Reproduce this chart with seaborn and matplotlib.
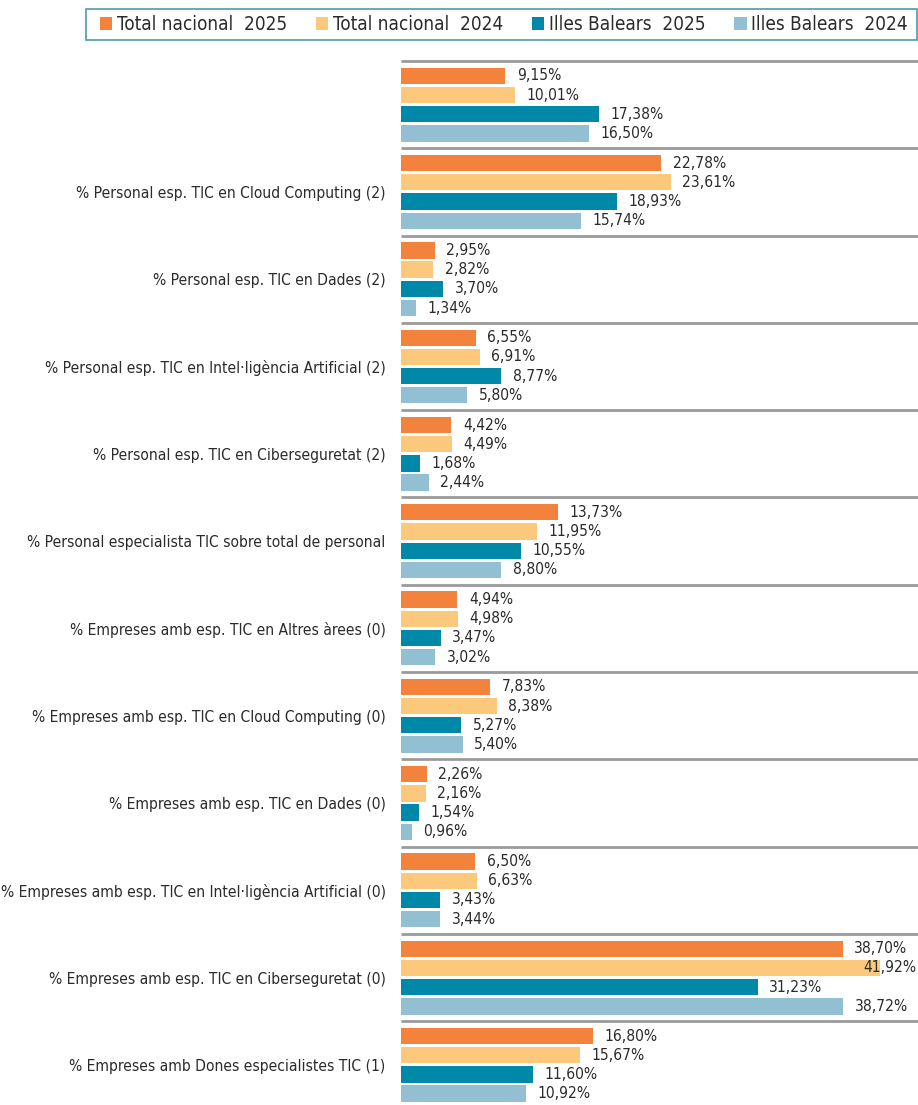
import numpy as np
import pandas as pd
import matplotlib.pyplot as plt
import seaborn as sns
from matplotlib.patches import Patch, Rectangle

# ==========================================
# Data
# ==========================================

categories = [
    "",
    "% Personal esp. TIC en Cloud Computing (2)",
    "% Personal esp. TIC en Dades (2)",
    "% Personal esp. TIC en Intel·ligència Artificial (2)",
    "% Personal esp. TIC en Ciberseguretat (2)",
    "% Personal especialista TIC sobre total de personal",
    "% Empreses amb esp. TIC en Altres àrees (0)",
    "% Empreses amb esp. TIC en Cloud Computing (0)",
    "% Empreses amb esp. TIC en Dades (0)",
    "% Empreses amb esp. TIC en Intel·ligència Artificial (0)",
    "% Empreses amb esp. TIC en Ciberseguretat (0)",
    "% Empreses amb Dones especialistes TIC (1)",
]

series_names = ["Total nacional  2025", "Total nacional  2024",
                "Illes Balears  2025", "Illes Balears  2024"]

nacional_2025 = [9.15, 22.78, 2.95, 6.55, 4.42, 13.73, 4.94, 7.83, 2.26, 6.50, 38.70, 16.80]
nacional_2024 = [10.01, 23.61, 2.82, 6.91, 4.49, 11.95, 4.98, 8.38, 2.16, 6.63, 41.92, 15.67]
balears_2025 = [17.38, 18.93, 3.70, 8.77, 1.68, 10.55, 3.47, 5.27, 1.54, 3.43, 31.23, 11.60]
balears_2024 = [16.50, 15.74, 1.34, 5.80, 2.44, 8.80, 3.02, 5.40, 0.96, 3.44, 38.72, 10.92]

colors = ["#F3823C", "#FCC97C", "#0088A8", "#92C0D2"]

# long format table for seaborn
rows = []
for name, vals in zip(series_names, [nacional_2025, nacional_2024, balears_2025, balears_2024]):
    for cat, v in zip(categories, vals):
        rows.append({"cat": cat, "serie": name, "valor": v})
df = pd.DataFrame(rows)

# ==========================================
# Plot
# ==========================================

sns.set_theme(style="white")
plt.rcParams["font.family"] = ["DejaVu Sans"]
plt.rcParams["font.stretch"] = "condensed"

TXT = "#2B2B2B"
W, H = 918, 1105
fig = plt.figure(figsize=(W / 100, H / 100), dpi=100)
ax_left = 401 / W
ax = fig.add_axes([ax_left, 0, 1 - ax_left, (H - 61) / H])

XMAX = 45.27
sns.barplot(data=df, x="valor", y="cat", hue="serie", orient="h",
            order=categories, hue_order=series_names, palette=colors,
            width=0.88, gap=0.15, dodge=True, saturation=1, linewidth=0, ax=ax)

ax.set_xlim(0, XMAX)
ax.set_ylim(11.46, -0.5)
ax.legend_.remove()
sns.despine(ax=ax, left=True, bottom=True, top=True, right=True)
ax.set_xticks([])
ax.set_xlabel("")
ax.set_ylabel("")
ax.tick_params(axis="y", length=0, pad=11, labelsize=11.2, labelcolor=TXT)

# separators between groups
ax.hlines(np.arange(len(categories) + 1) - 0.5, 0, XMAX, color="#9A9A9A", lw=2, clip_on=False)

# value labels
for cont in ax.containers:
    for bar in cont:
        v = bar.get_width()
        yc = bar.get_y() + bar.get_height() / 2
        txt = f"{v:.2f}%".replace(".", ",")
        if v + 1.0 + 5.0 > XMAX:
            ax.text(XMAX - 0.15, yc, txt, ha="right", va="center", fontsize=11.2, color=TXT)
        else:
            ax.text(v + 1.0, yc, txt, ha="left", va="center", fontsize=11.2, color=TXT)

# legend: frame drawn separately so the entries sit inset from the box edges
fig.patches.append(Rectangle((86 / W, 1 - 40 / H), (917 - 86) / W, 31 / H,
                             transform=fig.transFigure, facecolor="white",
                             edgecolor="#4A9BB0", lw=1.2, zorder=0))
handles = [Patch(facecolor=c, edgecolor="none") for c in colors]
leg = fig.legend(handles, series_names, loc="center left", ncol=4, mode="expand",
                 bbox_to_anchor=(100 / W, 1 - 40 / H, (908 - 100) / W, 31 / H),
                 frameon=False, fontsize=13.6,
                 handlelength=0.65, handleheight=0.65, handletextpad=0.25,
                 columnspacing=1.6, borderpad=0, borderaxespad=0,
                 labelcolor=TXT)

fig.savefig("out.png", dpi=100)
